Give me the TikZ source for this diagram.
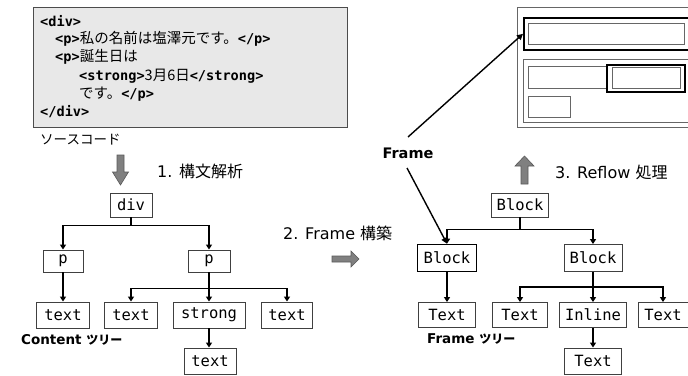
\documentclass[tikz,border=0pt]{standalone}
\usepackage{fontspec}
\setmainfont{DejaVu Sans}
\newfontfamily\jp{Noto Sans CJK JP}
\newfontfamily\mono{DejaVu Sans Mono}
\usetikzlibrary{arrows.meta}
\newcommand\tagx[1]{{\mono\bfseries\fontsize{13.6}{13.6}\selectfont #1}}
\newcommand\tsuri{{\jp\bfseries\fontsize{12}{12}\selectfont ツリー}}
\begin{document}
\begin{tikzpicture}[x=1pt,y=-1pt,
  tn/.style={draw=black!75,line width=0.9pt,fill=white,font=\mono\fontsize{15.5}{15.5}\selectfont,minimum height=24,inner sep=0},
  thk/.style={draw=black,line width=1.6pt},
  conn/.style={line width=1.8pt,-{Triangle[length=5pt,width=6pt]}},
  farr/.style={line width=1.4pt,-{Triangle[length=6pt,width=6pt]}},
  lab/.style={font=\fontsize{16}{16}\selectfont,anchor=west,inner sep=0},
  blab/.style={font=\bfseries\fontsize{13.5}{13.5}\selectfont,anchor=west,inner sep=0},
  src/.style={font=\jp\fontsize{14.5}{14.5}\selectfont,anchor=west,inner sep=0},
  pbox/.style={draw=black!60,line width=0.9pt,inner sep=0,anchor=north west},
  garr/.style={fill=black!50,draw=black!65,line width=0.6pt}]
\useasboundingbox (0,0) rectangle (688,375);

% source code box
\node[draw=black!70,fill=black!9,line width=1.2pt,minimum width=314,minimum height=120,inner sep=0,anchor=north west] (srcbox) at (33,7) {};
\node[src] (l1) at (40,21) {\tagx{<div>}};
\node[src] (l2) at (55,39) {\tagx{<p>}私の名前は塩澤元です。\tagx{</p>}};
\node[src] (l3) at (55,57) {\tagx{<p>}誕生日は};
\node[src] (l4) at (79,76) {\tagx{<strong>}3月6日\tagx{</strong>}};
\node[src] (l5) at (79,94) {です。\tagx{</p>}};
\node[src] (l6) at (40,112) {\tagx{</div>}};
\node[lab,font=\jp\fontsize{13.5}{13.5}\selectfont] (srclab) at (40,140) {ソースコード};

% step arrows
\path[garr] (117,155) -- (124,155) -- (124,172) -- (128.5,172) -- (120.5,185) -- (112.5,172) -- (117,172) -- cycle;
\node[lab] (s1) at (157,171) {1. {\jp 構文解析}};
\path[garr] (332,256) -- (351,256) -- (351,251) -- (359,259) -- (351,267) -- (351,262) -- (332,262) -- cycle;
\node[lab] (s2) at (283,233) {2. Frame {\jp 構築}};
\path[garr] (521,184) -- (528,184) -- (528,166) -- (534,166) -- (524.5,156) -- (515,166) -- (521,166) -- cycle;
\node[lab] (s3) at (555,172) {3. Reflow {\jp 処理}};

% content tree
\node[tn,minimum width=42] (div) at (131,205) {div};
\node[tn,minimum width=40,minimum height=22] (p1) at (63,261) {p};
\node[tn,minimum width=42,minimum height=22] (p2) at (209,261) {p};
\node[tn,minimum width=53,minimum height=26] (t1) at (63,315) {text};
\node[tn,minimum width=53,minimum height=26] (t2) at (131,315) {text};
\node[tn,minimum width=72,minimum height=26] (st) at (209,315) {strong};
\node[tn,minimum width=51,minimum height=26] (t3) at (287,315) {text};
\node[tn,minimum width=52,minimum height=26] (t4) at (210,361) {text};
\node[blab] (ct) at (21,340) {Content \tsuri};
\draw[conn] (div.south) -- ++(0,8) -| (p1.north);
\draw[conn] (div.south) -- ++(0,8) -| (p2.north);
\draw[conn] (p1) -- (t1);
\draw[conn] (p2.south) -- ++(0,16) -| (t2.north);
\draw[conn] (p2.south) -- ++(0,16) -| (t3.north);
\draw[conn] (p2) -- (st);
\draw[conn] (st.south) -- (st.south |- t4.north);

% frame tree
\node[tn,minimum width=57] (B0) at (520,205) {Block};
\node[tn,thk,minimum width=59,minimum height=27] (B1) at (447,258) {Block};
\node[tn,minimum width=58,minimum height=27] (B2) at (593,258) {Block};
\node[tn,minimum width=57,minimum height=25] (T1) at (447,315) {Text};
\node[tn,minimum width=55,minimum height=25] (T2) at (520,315) {Text};
\node[tn,minimum width=67,minimum height=25] (IN) at (593,315) {Inline};
\node[tn,minimum width=50,minimum height=25] (T3) at (663,315) {Text};
\node[tn,minimum width=57,minimum height=26] (T4) at (593,361) {Text};
\node[blab] (ft) at (427,339) {Frame \tsuri};
\draw[conn] (B0.south) -- ++(0,12) -| (B1.north);
\draw[conn] (B0.south) -- ++(0,12) -| (B2.north);
\draw[conn] (B1) -- (T1);
\draw[conn] (B2.south) -- ++(0,15) -| (T2.north);
\draw[conn] (B2.south) -- ++(0,15) -| (T3.north);
\draw[conn] (B2) -- (IN);
\draw[conn] (IN) -- (T4);

% rendered frame panel
\node[pbox,minimum width=172,minimum height=120] (panel) at (517,7) {};
\node[pbox,thk,minimum width=170,minimum height=32] (ub) at (523,17) {};
\node[pbox,minimum width=156,minimum height=21] (ubi) at (528,23) {};
\node[pbox,minimum width=170,minimum height=63] (lb) at (523,59) {};
\node[pbox,minimum width=79,minimum height=22] (lr1) at (528,66) {};
\node[pbox,thk,minimum width=78,minimum height=27] (lr2) at (606,64) {};
\node[pbox,minimum width=68,minimum height=21] (lr3) at (612,67) {};
\node[pbox,minimum width=42,minimum height=21] (lr4) at (528,96) {};

% Frame label and pointers
\node[font=\bfseries\fontsize{14.5}{14.5}\selectfont,inner sep=0] (fr) at (408,153) {Frame};
\coordinate (fa) at (408,137);
\coordinate (fb) at (407,168);
\draw[farr] (fa) -- (ub.west);
\draw[farr] (fb) -- (B1.north);
\end{tikzpicture}
\end{document}
